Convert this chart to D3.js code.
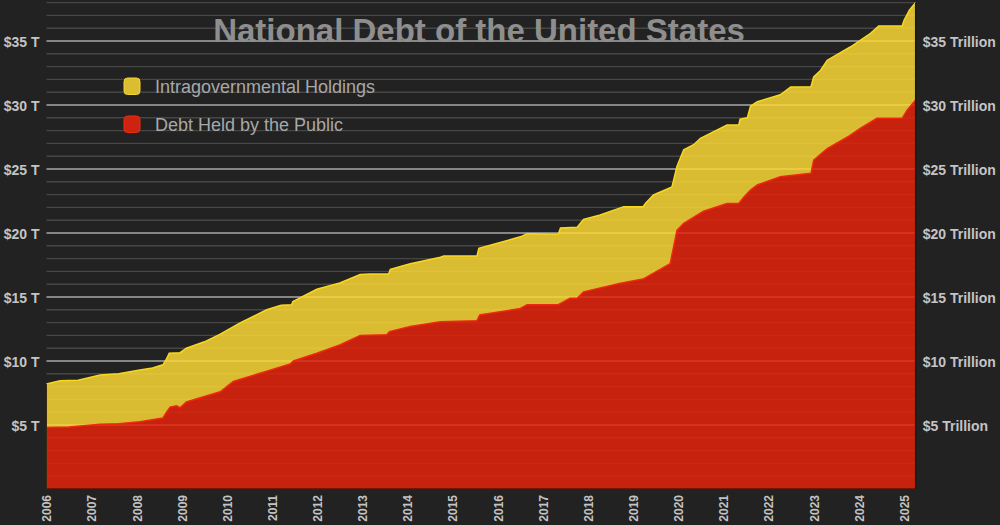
<!DOCTYPE html>
<html>
<head>
<meta charset="utf-8">
<script src="https://cdn.jsdelivr.net/npm/d3@7"></script>
<style>
  html, body { margin: 0; padding: 0; background: #222222; }
  svg { display: block; font-family: "Liberation Sans", Arial, Helvetica, sans-serif; }
</style>
</head>
<body>
<div id="wrapper"></div>
<script>
// total public debt (top of the yellow area), [year, trillions]
const totalDebt = [
  [2006.00, 8.2], [2006.30, 8.45], [2006.70, 8.5], [2007.19, 8.9], [2007.60, 9.0],
  [2008.07, 9.3], [2008.35, 9.45], [2008.58, 9.7], [2008.65, 10.1], [2008.72, 10.6],
  [2008.96, 10.65], [2009.10, 11.0], [2009.50, 11.5], [2009.85, 12.1], [2010.30, 13.0],
  [2010.88, 14.0], [2011.20, 14.35], [2011.43, 14.4], [2011.46, 14.65], [2011.99, 15.6],
  [2012.50, 16.1], [2012.95, 16.75], [2013.17, 16.8], [2013.58, 16.8], [2013.62, 17.16],
  [2014.06, 17.6], [2014.73, 18.1], [2014.80, 18.2], [2015.54, 18.2], [2015.58, 18.8],
  [2016.50, 19.7], [2016.65, 19.95], [2017.34, 19.9], [2017.39, 20.4], [2017.76, 20.45],
  [2017.90, 21.07], [2018.27, 21.4], [2018.79, 22.06], [2019.22, 22.06], [2019.27, 22.3],
  [2019.45, 22.97], [2019.86, 23.6], [2019.97, 25.2], [2020.12, 26.5], [2020.34, 26.9],
  [2020.49, 27.4], [2021.08, 28.44], [2021.34, 28.44], [2021.37, 28.9], [2021.53, 29.0],
  [2021.60, 29.9], [2021.75, 30.26], [2022.26, 30.8], [2022.49, 31.4], [2022.94, 31.43],
  [2023.00, 32.2], [2023.15, 32.7], [2023.30, 33.5], [2023.82, 34.55], [2024.26, 35.6],
  [2024.44, 36.17], [2024.96, 36.17], [2025.00, 36.6], [2025.12, 37.4], [2025.26, 38.0]
]

// debt held by the public (top of the red area), [year, trillions]
const publicDebt = [
  [2006.00, 4.8], [2006.50, 4.85], [2007.19, 5.05], [2007.60, 5.1], [2008.07, 5.26],
  [2008.58, 5.55], [2008.66, 6.0], [2008.74, 6.4], [2008.88, 6.5], [2008.96, 6.35],
  [2009.10, 6.8], [2009.85, 7.6], [2010.14, 8.4], [2010.88, 9.2], [2011.40, 9.77],
  [2011.47, 10.0], [2011.99, 10.6], [2012.50, 11.25], [2012.95, 12.0], [2013.54, 12.05],
  [2013.60, 12.3], [2014.06, 12.7], [2014.73, 13.07], [2015.54, 13.15], [2015.60, 13.6],
  [2016.50, 14.1], [2016.65, 14.4], [2017.34, 14.4], [2017.60, 14.9], [2017.76, 14.9],
  [2017.90, 15.4], [2018.72, 16.07], [2019.22, 16.4], [2019.82, 17.6], [2019.97, 20.2],
  [2020.12, 20.75], [2020.56, 21.7], [2021.08, 22.3], [2021.34, 22.3], [2021.45, 22.8],
  [2021.60, 23.36], [2021.75, 23.75], [2022.26, 24.4], [2022.94, 24.66], [2023.00, 25.7],
  [2023.30, 26.6], [2023.75, 27.5], [2024.04, 28.2], [2024.40, 28.96], [2024.96, 28.96],
  [2025.07, 29.6], [2025.26, 30.4]
]

const yearTicks = d3.range(2006, 2026)
const majorTicks = [5, 10, 15, 20, 25, 30, 35]
const minorTicks = d3.range(1, 39)
const legendItems = ["Intragovernmental Holdings", "Debt Held by the Public"]
const chartTitle = "National Debt of the United States"

const xAccessor = d => d[0]
const yAccessor = d => d[1]

const dms = {
  width: 1000,
  height: 525,
  margin: { top: 2.6, right: 84.3, bottom: 36, left: 46.5 },
}
dms.boundedWidth = dms.width - dms.margin.left - dms.margin.right
dms.boundedHeight = dms.height - dms.margin.top - dms.margin.bottom

const wrapper = d3.select("#wrapper")
  .append("svg")
  .attr("width", dms.width)
  .attr("height", dms.height)

wrapper.append("rect")
  .attr("width", dms.width)
  .attr("height", dms.height)
  .attr("fill", "#222222")

const bounds = wrapper.append("g")
  .attr("transform", `translate(${dms.margin.left}, ${dms.margin.top})`)

const xScale = d3.scaleLinear()
  .domain([2006, 2025.26])
  .range([0, dms.boundedWidth])

const yScale = d3.scaleLinear()
  .domain([0, 38])
  .range([dms.boundedHeight, 0])

const areaGen = d3.area()
  .x(d => xScale(xAccessor(d)))
  .y0(yScale(0))
  .y1(d => yScale(yAccessor(d)))

const lineGen = d3.line()
  .x(d => xScale(xAccessor(d)))
  .y(d => yScale(yAccessor(d)))

// clip for the red area, so the grid can show through it again
wrapper.append("defs")
  .append("clipPath")
  .attr("id", "public-clip")
  .append("path")
  .attr("d", areaGen(publicDebt))

const drawGrid = parent => parent.selectAll("line")
  .data(minorTicks)
  .join("line")
  .attr("x1", 0)
  .attr("x2", dms.boundedWidth)
  .attr("y1", d => yScale(d))
  .attr("y2", d => yScale(d))
  .attr("stroke", d => d % 5 === 0 ? "#a8a8a8" : "#464646")
  .attr("stroke-width", d => d % 5 === 0 ? 1.6 : 1.4)

// grid behind the areas, shows through the translucent fills
drawGrid(bounds.append("g"))

bounds.append("path")
  .attr("d", areaGen(totalDebt))
  .attr("fill", "#f9d635")
  .attr("fill-opacity", 0.86)

bounds.append("path")
  .attr("d", lineGen(totalDebt))
  .attr("fill", "none")
  .attr("stroke", "#f8d81e")
  .attr("stroke-width", 1.5)

// red area sits on plain background, not on the yellow
bounds.append("path")
  .attr("d", areaGen(publicDebt))
  .attr("fill", "#222222")

drawGrid(bounds.append("g").attr("clip-path", "url(#public-clip)"))

bounds.append("path")
  .attr("d", areaGen(publicDebt))
  .attr("fill", "#e3230c")
  .attr("fill-opacity", 0.86)

bounds.append("path")
  .attr("d", lineGen(publicDebt))
  .attr("fill", "none")
  .attr("stroke", "#f02810")
  .attr("stroke-width", 1.5)

// plot frame
bounds.append("line")
  .attr("x1", 0).attr("x2", dms.boundedWidth)
  .attr("y1", dms.boundedHeight).attr("y2", dms.boundedHeight)
  .attr("stroke", "#5a1208").attr("stroke-width", 1.5)
bounds.append("line")
  .attr("x1", dms.boundedWidth).attr("x2", dms.boundedWidth)
  .attr("y1", 0).attr("y2", dms.boundedHeight)
  .attr("stroke", "#1a1a1a").attr("stroke-width", 1.5)
bounds.append("line")
  .attr("x1", 0).attr("x2", 0)
  .attr("y1", yScale(8.2)).attr("y2", dms.boundedHeight)
  .attr("stroke", "#3a2a10").attr("stroke-width", 1)

// axes
const yAxisLeft = bounds.append("g")
  .call(d3.axisLeft(yScale)
    .tickValues(majorTicks)
    .tickSize(0)
    .tickPadding(7)
    .tickFormat(d => `$${d} T`))
yAxisLeft.select(".domain").remove()

const yAxisRight = bounds.append("g")
  .attr("transform", `translate(${dms.boundedWidth}, 0)`)
  .call(d3.axisRight(yScale)
    .tickValues(majorTicks)
    .tickSize(0)
    .tickPadding(7)
    .tickFormat(d => `$${d} Trillion`))
yAxisRight.select(".domain").remove()

bounds.selectAll(".tick text")
  .attr("fill", "#c4c4c4")
  .style("font-size", "14px")
  .style("font-weight", "bold")
  .attr("dy", "0.36em")

const xAxis = bounds.append("g")
  .attr("transform", `translate(0, ${dms.boundedHeight})`)
  .call(d3.axisBottom(xScale)
    .tickValues(yearTicks)
    .tickSize(0)
    .tickFormat(d3.format("d")))
xAxis.select(".domain").remove()
xAxis.selectAll("text")
  .attr("fill", "#c4c4c4")
  .style("font-size", "12px")
  .style("font-weight", "bold")
  .attr("text-anchor", "end")
  .attr("transform", "rotate(-90)")
  .attr("x", -6)
  .attr("y", 0)
  .attr("dy", "0.36em")

// title
wrapper.append("text")
  .attr("x", 479)
  .attr("y", 42)
  .attr("text-anchor", "middle")
  .attr("fill", "#8e8e8e")
  .style("font-size", "33px")
  .style("font-weight", "bold")
  .text(chartTitle)

// legend
const legendColors = ["#dcbd32", "#cc2410"]
const legendStroke = ["#f5d530", "#ee2a12"]
const legend = wrapper.append("g")
  .selectAll("g")
  .data(legendItems)
  .join("g")
  .attr("transform", (d, i) => `translate(124, ${78 + i * 38})`)

legend.append("rect")
  .attr("width", 16)
  .attr("height", 16.5)
  .attr("rx", 3.5)
  .attr("fill", (d, i) => legendColors[i])
  .attr("stroke", (d, i) => legendStroke[i])
  .attr("stroke-width", 1)

legend.append("text")
  .attr("x", 31)
  .attr("y", 15)
  .attr("fill", "#a8a8a8")
  .style("font-size", "18px")
  .text(d => d)
</script>
</body>
</html>
